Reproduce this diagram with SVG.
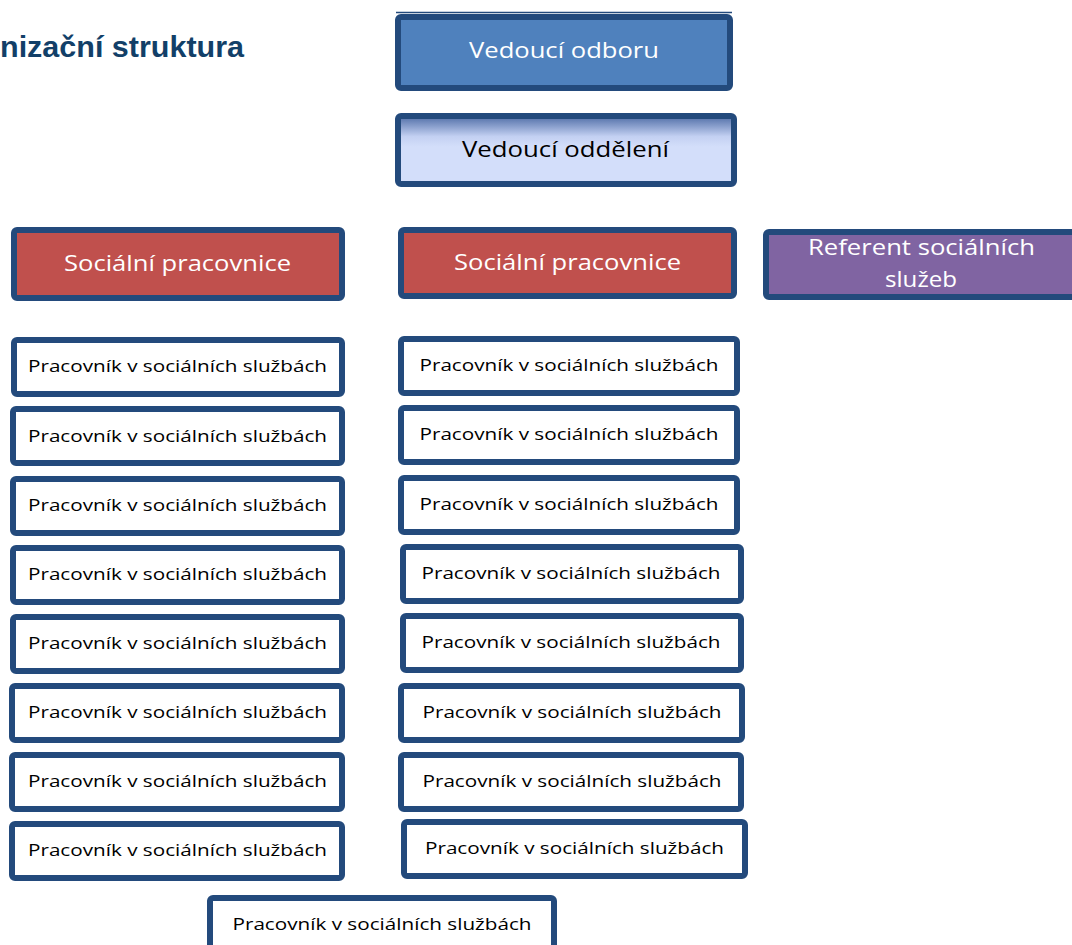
<svg xmlns="http://www.w3.org/2000/svg" width="1072" height="945" viewBox="0 0 1072 945">
<defs>
<linearGradient id="gOdd" x1="0" y1="0" x2="0" y2="1">
<stop offset="0" stop-color="#4F6DA6"/>
<stop offset="0.3" stop-color="#C3D0F2"/>
<stop offset="0.45" stop-color="#D3DEFA"/>
<stop offset="1" stop-color="#D3DEFA"/>
</linearGradient>
<style>
.box{stroke:#234A7C;stroke-width:6;rx:3;}
.w{fill:#FFFFFF;}
.t{font-family:"Open Sans","Noto Sans",sans-serif;text-anchor:middle;}
.ts{font-size:17px;fill:#000;}
.tl{font-size:22px;}
</style>
</defs>
<text x="244" y="57" text-anchor="end" font-family="Liberation Sans, Arial, sans-serif" font-weight="bold" font-size="29" fill="#123F68" textLength="244" lengthAdjust="spacingAndGlyphs">nizační struktura</text>
<g id="vedouci-odboru">
<line x1="396" y1="12.5" x2="732" y2="12.5" stroke="#234A7C" stroke-width="1.5"/>
<rect class="box" x="398" y="17" width="332" height="71" fill="#4F81BD"/>
<text class="t tl" x="564" y="58" fill="#FFFFFF" textLength="190" lengthAdjust="spacingAndGlyphs">Vedoucí odboru</text>
</g>
<g id="vedouci-oddeleni">
<rect class="box" x="398" y="116" width="336" height="68" fill="url(#gOdd)"/>
<text class="t tl" x="565.5" y="157" fill="#000000" textLength="207" lengthAdjust="spacingAndGlyphs">Vedoucí oddělení</text>
</g>
<g id="socialni-pracovnice-1">
<rect class="box" x="14" y="230" width="328" height="68" fill="#C0504D"/>
<text class="t tl" x="177.5" y="271" fill="#FFFFFF" textLength="227" lengthAdjust="spacingAndGlyphs">Sociální pracovnice</text>
</g>
<g id="socialni-pracovnice-2">
<rect class="box" x="401" y="230" width="333" height="66" fill="#C0504D"/>
<text class="t tl" x="567.5" y="270" fill="#FFFFFF" textLength="227" lengthAdjust="spacingAndGlyphs">Sociální pracovnice</text>
</g>
<g id="referent">
<rect class="box" x="766" y="232" width="320" height="65" fill="#8064A2"/>
<text class="t tl" x="921.5" y="255" fill="#FFFFFF" textLength="227" lengthAdjust="spacingAndGlyphs">Referent sociálních</text>
<text class="t tl" x="921" y="287" fill="#FFFFFF" textLength="72" lengthAdjust="spacingAndGlyphs">služeb</text>
</g>
<g id="pracovnik-l1"><rect class="box w" x="14" y="340" width="328" height="54"/><text class="t ts" x="177.5" y="372" textLength="299" lengthAdjust="spacingAndGlyphs">Pracovník v sociálních službách</text></g>
<g id="pracovnik-l2"><rect class="box w" x="13" y="409" width="329" height="54"/><text class="t ts" x="177.5" y="442" textLength="299" lengthAdjust="spacingAndGlyphs">Pracovník v sociálních službách</text></g>
<g id="pracovnik-l3"><rect class="box w" x="13" y="479" width="329" height="54"/><text class="t ts" x="177.5" y="511" textLength="299" lengthAdjust="spacingAndGlyphs">Pracovník v sociálních službách</text></g>
<g id="pracovnik-l4"><rect class="box w" x="13" y="548" width="329" height="54"/><text class="t ts" x="177.5" y="580" textLength="299" lengthAdjust="spacingAndGlyphs">Pracovník v sociálních službách</text></g>
<g id="pracovnik-l5"><rect class="box w" x="13" y="617" width="329" height="54"/><text class="t ts" x="177.5" y="649" textLength="299" lengthAdjust="spacingAndGlyphs">Pracovník v sociálních službách</text></g>
<g id="pracovnik-l6"><rect class="box w" x="12" y="686" width="330" height="54"/><text class="t ts" x="177.5" y="718" textLength="299" lengthAdjust="spacingAndGlyphs">Pracovník v sociálních službách</text></g>
<g id="pracovnik-l7"><rect class="box w" x="12" y="755" width="330" height="54"/><text class="t ts" x="177.5" y="787" textLength="299" lengthAdjust="spacingAndGlyphs">Pracovník v sociálních službách</text></g>
<g id="pracovnik-l8"><rect class="box w" x="12" y="824" width="330" height="54"/><text class="t ts" x="177.5" y="856" textLength="299" lengthAdjust="spacingAndGlyphs">Pracovník v sociálních službách</text></g>
<g id="pracovnik-r1"><rect class="box w" x="401" y="339" width="336" height="54"/><text class="t ts" x="569" y="371" textLength="299" lengthAdjust="spacingAndGlyphs">Pracovník v sociálních službách</text></g>
<g id="pracovnik-r2"><rect class="box w" x="401" y="408" width="336" height="54"/><text class="t ts" x="569" y="440" textLength="299" lengthAdjust="spacingAndGlyphs">Pracovník v sociálních službách</text></g>
<g id="pracovnik-r3"><rect class="box w" x="401" y="478" width="336" height="54"/><text class="t ts" x="569" y="510" textLength="299" lengthAdjust="spacingAndGlyphs">Pracovník v sociálních službách</text></g>
<g id="pracovnik-r4"><rect class="box w" x="403" y="547" width="338" height="54"/><text class="t ts" x="571" y="579" textLength="299" lengthAdjust="spacingAndGlyphs">Pracovník v sociálních službách</text></g>
<g id="pracovnik-r5"><rect class="box w" x="403" y="616" width="338" height="54"/><text class="t ts" x="571" y="648" textLength="299" lengthAdjust="spacingAndGlyphs">Pracovník v sociálních službách</text></g>
<g id="pracovnik-r6"><rect class="box w" x="401" y="686" width="341" height="54"/><text class="t ts" x="572" y="718" textLength="299" lengthAdjust="spacingAndGlyphs">Pracovník v sociálních službách</text></g>
<g id="pracovnik-r7"><rect class="box w" x="401" y="755" width="340" height="54"/><text class="t ts" x="572" y="787" textLength="299" lengthAdjust="spacingAndGlyphs">Pracovník v sociálních službách</text></g>
<g id="pracovnik-r8"><rect class="box w" x="404" y="822" width="341" height="54"/><text class="t ts" x="574.5" y="854" textLength="299" lengthAdjust="spacingAndGlyphs">Pracovník v sociálních službách</text></g>
<g id="pracovnik-b"><rect class="box w" x="210" y="898" width="344" height="60"/><text class="t ts" x="382" y="930" textLength="299" lengthAdjust="spacingAndGlyphs">Pracovník v sociálních službách</text></g>
<g id="connectors"></g>
</svg>
